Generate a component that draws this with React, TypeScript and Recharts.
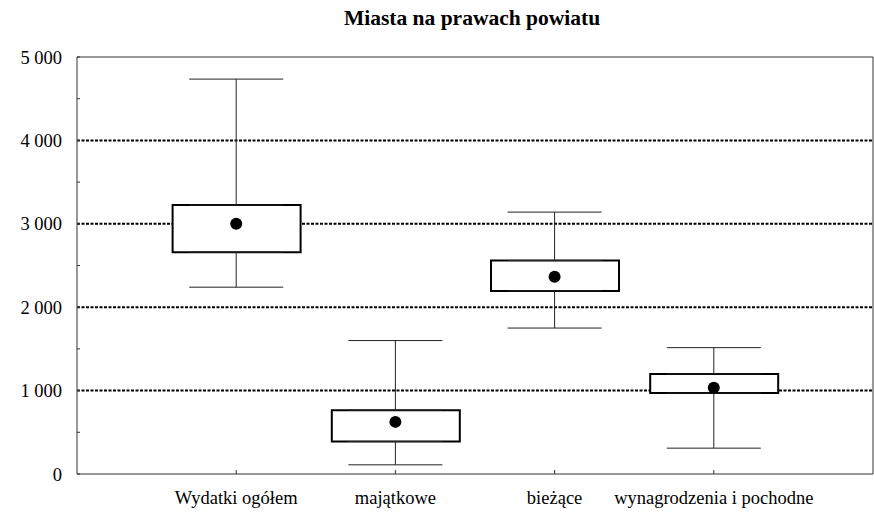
import {
  Bar,
  CartesianGrid,
  ComposedChart,
  ErrorBar,
  Scatter,
  XAxis,
  YAxis,
} from "recharts";

const categories = ["Wydatki ogółem", "majątkowe", "bieżące", "wynagrodzenia i pochodne"];
const mins = [2240, 110, 1750, 310];
const q1s = [2660, 390, 2195, 970];
const means = [3000, 625, 2365, 1035];
const q3s = [3225, 765, 2560, 1200];
const maxs = [4735, 1600, 3140, 1515];

const categoryTicks = [1, 2, 3, 4];
const yTicks = [0, 500, 1000, 1500, 2000, 2500, 3000, 3500, 4000, 4500, 5000];
const gridValues = [1000, 2000, 3000, 4000];

const rows = categories.map((name, i) => ({
  x: i + 1,
  name,
  box: [q1s[i], q3s[i]],
  q1: q1s[i],
  q3: q3s[i],
  mean: means[i],
  lowErr: [q1s[i] - mins[i], 0],
  highErr: [0, maxs[i] - q3s[i]],
}));

const font = "Liberation Serif";
const tickStyle = { fill: "#000", fontSize: 18.5, fontFamily: font };

function formatThousands(value: number) {
  if (value % 1000 !== 0) return "";
  return String(value).replace(/\B(?=(\d{3})+(?!\d))/g, " ");
}

const hidden = () => <g />;
const meanDot = (props: any) => <circle cx={props.cx} cy={props.cy} r={6} fill="#000" />;

export default function App() {
  return (
    <div
      style={{
        position: "absolute",
        left: 0,
        top: 0,
        width: 874,
        height: 512,
        background: "#fff",
        fontFamily: font,
      }}
    >
      <div
        style={{
          position: "absolute",
          left: 0,
          top: 6,
          width: 944,
          textAlign: "center",
          fontWeight: "bold",
          fontSize: 21.5,
          color: "#000",
        }}
      >
        Miasta na prawach powiatu
      </div>
      <ComposedChart
        width={874}
        height={512}
        data={rows}
        margin={{ top: 56, right: 0, bottom: 0, left: 0 }}
        style={{ fontFamily: font }}
      >
        <CartesianGrid
          horizontal
          vertical={false}
          horizontalValues={gridValues}
          stroke="#000"
          strokeWidth={2}
          strokeDasharray="3 1.5"
        />
        <XAxis
          dataKey="x"
          type="number"
          domain={[0, 5]}
          ticks={categoryTicks}
          tickFormatter={(v: number) => categories[v - 1] ?? ""}
          height={38}
          tickSize={-4}
          tickMargin={21}
          tick={tickStyle}
          stroke="#333"
          interval={0}
        />
        <XAxis
          xAxisId="top"
          dataKey="x"
          orientation="top"
          type="number"
          domain={[0, 5]}
          ticks={categoryTicks}
          height={1}
          tickSize={-4}
          tick={false}
          stroke="#333"
        />
        <YAxis
          type="number"
          domain={[0, 5000]}
          ticks={yTicks}
          tickFormatter={formatThousands}
          width={77}
          tickSize={-3}
          tickMargin={18}
          tick={tickStyle}
          stroke="#333"
          interval={0}
          allowDataOverflow
        />
        <YAxis
          yAxisId="right"
          orientation="right"
          type="number"
          domain={[0, 5000]}
          ticks={yTicks}
          width={1}
          tickSize={-3}
          tick={false}
          stroke="#333"
          allowDataOverflow
        />
        <Bar
          dataKey="box"
          barSize={128}
          fill="#fff"
          stroke="#000"
          strokeWidth={2}
          isAnimationActive={false}
        />
        <Scatter dataKey="q1" shape={hidden} isAnimationActive={false}>
          <ErrorBar dataKey="lowErr" direction="y" width={47} stroke="#222" strokeWidth={1} />
        </Scatter>
        <Scatter dataKey="q3" shape={hidden} isAnimationActive={false}>
          <ErrorBar dataKey="highErr" direction="y" width={47} stroke="#222" strokeWidth={1} />
        </Scatter>
        <Scatter dataKey="mean" shape={meanDot} isAnimationActive={false} />
        <Scatter
          xAxisId="top"
          yAxisId="right"
          dataKey="mean"
          shape={hidden}
          isAnimationActive={false}
        />
      </ComposedChart>
    </div>
  );
}
